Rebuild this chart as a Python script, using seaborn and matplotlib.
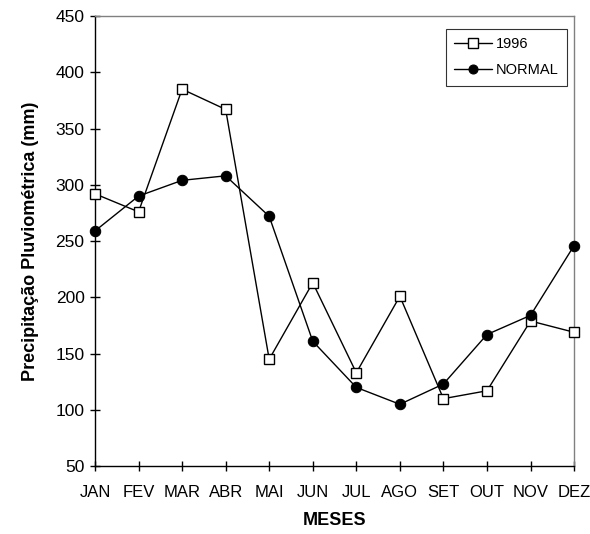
import numpy as np
import pandas as pd
import seaborn as sns
import matplotlib
matplotlib.use('Agg')
import matplotlib.pyplot as plt

# monthly rainfall
meses = ["JAN", "FEV", "MAR", "ABR", "MAI", "JUN", "JUL", "AGO", "SET", "OUT", "NOV", "DEZ"]
chuva_1996 = [292, 276, 385, 367, 145, 213, 133, 201, 110, 117, 179, 169]
chuva_normal = [259, 290, 304, 308, 272, 161, 120, 105, 123, 167, 184, 246]

df = pd.DataFrame({"mes": meses, "1996": chuva_1996, "NORMAL": chuva_normal})
df["pos"] = np.arange(len(meses))

sns.set_style("ticks", {"text.color": "black", "axes.labelcolor": "black",
                        "xtick.color": "black", "ytick.color": "black"})
plt.rcParams['font.family'] = ['Liberation Sans', 'DejaVu Sans']

fig = plt.figure(figsize=(5.9, 5.34), dpi=100)
ax = fig.add_axes([0.161, 0.127, 0.812, 0.843])

sns.lineplot(data=df, x="pos", y="1996", ax=ax, color="black", lw=1,
             marker="s", markersize=7, markerfacecolor="white",
             markeredgecolor="black", markeredgewidth=1, label="1996",
             clip_on=False, zorder=3)
sns.lineplot(data=df, x="pos", y="NORMAL", ax=ax, color="black", lw=1,
             marker="o", markersize=7.5, markerfacecolor="black",
             markeredgecolor="black", label="NORMAL",
             clip_on=False, zorder=3)

ax.set_xlim(0, len(meses) - 1)
ax.set_ylim(50, 450)
ax.set_yticks(range(50, 451, 50))
ax.set_xticks(df["pos"])
ax.set_xticklabels(meses)
ax.tick_params(direction="inout", length=7, width=1, colors="black")
ax.tick_params(axis="y", labelsize=12.5, pad=4)
ax.tick_params(axis="x", labelsize=12, pad=10)

for s in ["left", "bottom"]:
    ax.spines[s].set_color("black")
    ax.spines[s].set_linewidth(1)
for s in ["top", "right"]:
    ax.spines[s].set_color("#808080")
    ax.spines[s].set_linewidth(1)

ax.set_xlabel("MESES", fontsize=13, fontweight="bold", labelpad=9, color="black")
ax.set_ylabel("Precipitação Pluviométrica (mm)", fontsize=13, fontweight="bold",
              labelpad=12, color="black")

leg = ax.legend(loc="upper right", bbox_to_anchor=(0.985, 0.971), borderaxespad=0,
                frameon=True, fancybox=False, edgecolor="black", fontsize=10.5,
                handlelength=2.6, borderpad=0.55, labelspacing=0.85, handletextpad=0.3)
leg.get_frame().set_linewidth(0.8)
for t in leg.get_texts():
    t.set_color("black")
for h in leg.legend_handles:
    h.set_markersize(6.5)

fig.savefig("out.png", dpi=100)
